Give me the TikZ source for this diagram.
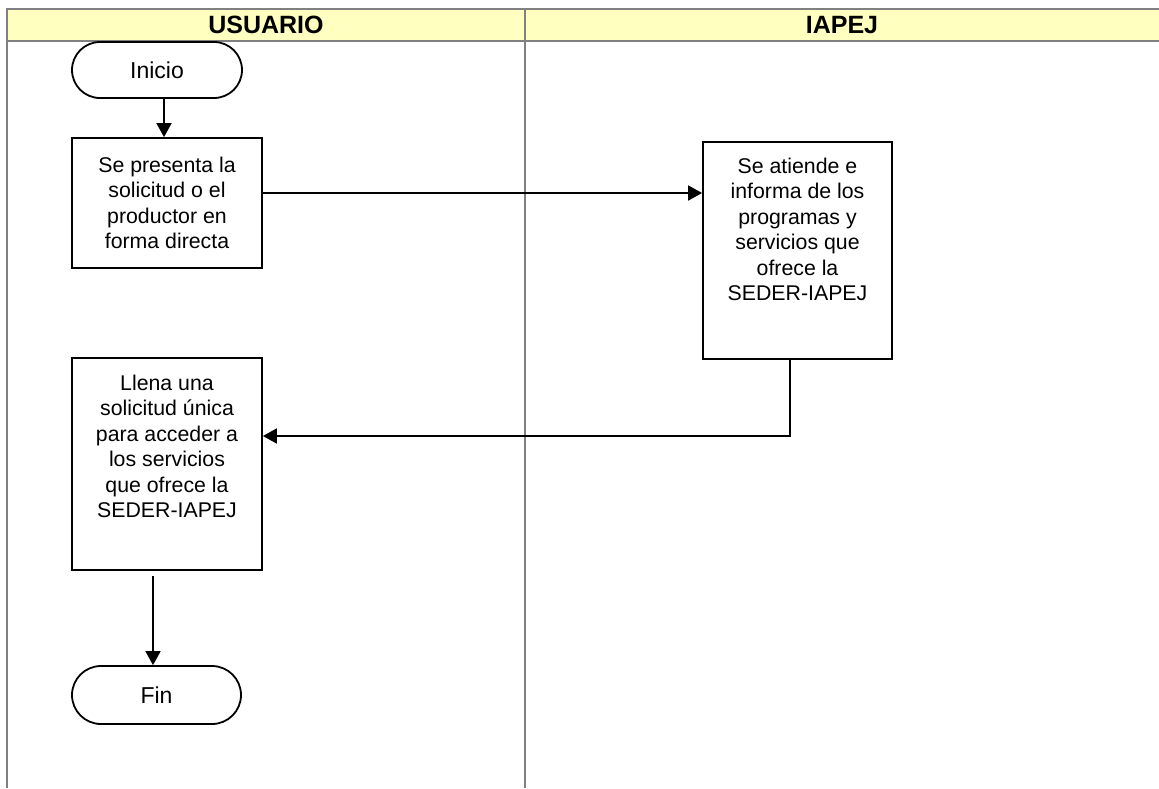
\documentclass[tikz,border=0pt]{standalone}
\usepackage{fontspec}
\setmainfont{Liberation Sans}
\usetikzlibrary{arrows.meta,calc}
\definecolor{hdr}{HTML}{FFFFC0}
\definecolor{lanegray}{HTML}{808080}
\tikzset{
 lane/.style={draw=lanegray, line width=2pt},
 procbox/.style={draw=black, line width=1.8pt, inner sep=0pt, fill=white},
 term/.style={draw=black, line width=1.8pt, rounded corners=28pt, minimum width=170pt, minimum height=56pt, inner sep=0pt, font=\fontsize{23}{27}\selectfont},
 flow/.style={line width=1.8pt, -{Triangle[length=14pt,width=15pt]}},
 hdrtext/.style={font=\fontsize{25}{30}\selectfont\bfseries},
 boxfont/.style={font=\fontsize{21.3}{25.5}\selectfont}
}
\begin{document}
\begin{tikzpicture}[x=1pt,y=-1pt]
\useasboundingbox (0,0) rectangle (1159,788);
\fill[hdr] (7,9) rectangle (1159,41);
\draw[lane] (1159,9) -- (7,9) -- (7,788);
\draw[lane] (7,41) -- (1159,41);
\draw[lane] (525,9) -- (525,788);
\node[hdrtext] (hu) at (266,25) {USUARIO};
\node[hdrtext] (hi) at (842,25) {IAPEJ};

\node[term] (ini) at (157,70) {Inicio};
\node[procbox, boxfont] (b1) at (167,203) {\parbox[c][130pt][c]{190pt}{\centering Se presenta la\\solicitud o el\\productor en\\forma directa}};
\node[procbox, boxfont] (b2) at (797.5,250.5) {\parbox[c][217pt][t]{189pt}{\vspace*{16pt}\centering Se atiende e\\informa de los\\programas y\\servicios que\\ofrece la\\SEDER-IAPEJ}};
\node[procbox, boxfont] (b3) at (167,464) {\parbox[c][212pt][t]{190pt}{\vspace*{17pt}\centering Llena una\\solicitud única\\para acceder a\\los servicios\\que ofrece la\\SEDER-IAPEJ}};
\node[term, minimum width=169pt, minimum height=58pt, rounded corners=29pt] (fin) at (156.5,695) {Fin};

\coordinate (f3) at (153,576);
\draw[flow] (ini.south -| 164,0) -- (b1.north -| 164,0);
\draw[flow] (b1.east |- 0,193) -- (b2.west |- 0,193);
\draw[flow] (b2.south -| 790,0) |- (b3.east |- 0,436);
\draw[flow] (f3) -- (fin.north -| f3);
\end{tikzpicture}
\end{document}
